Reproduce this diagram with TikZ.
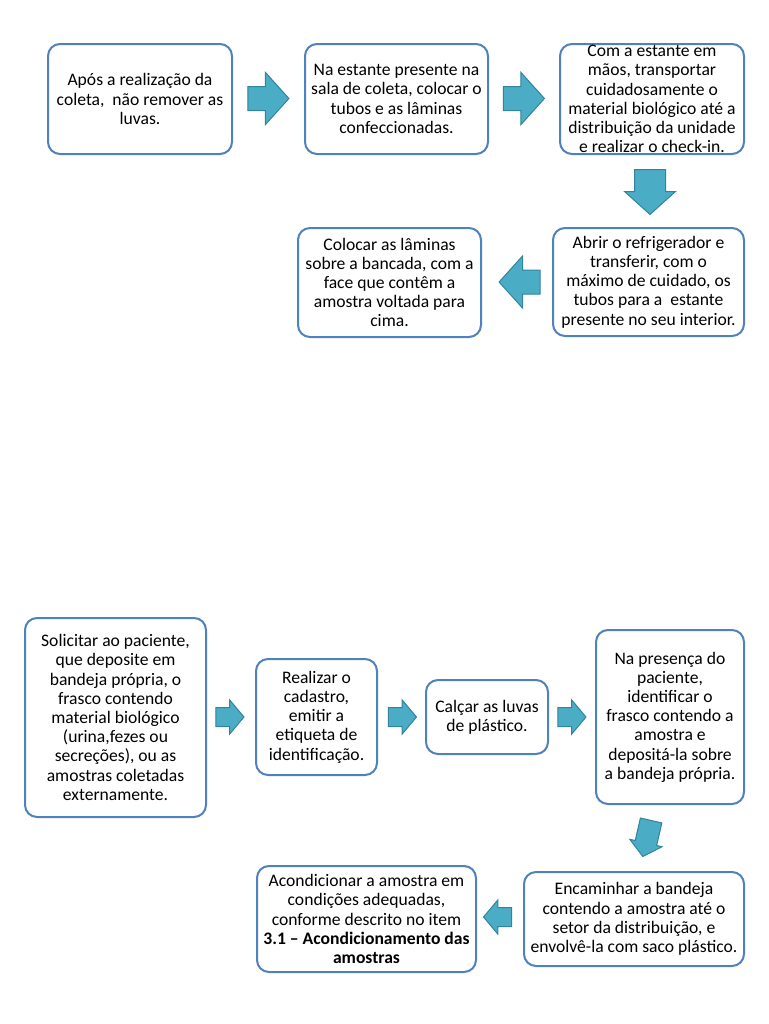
\documentclass[tikz,border=0pt]{standalone}
\usepackage{fontspec}
\setmainfont{Carlito}
\usetikzlibrary{shapes.arrows}
\definecolor{boxedge}{HTML}{4F81BD}
\definecolor{arrowfill}{HTML}{4BACC6}
\definecolor{arrowedge}{HTML}{31849B}
\tikzset{
  box/.style={draw=boxedge, line width=1pt, rounded corners=6pt, fill=white,
    align=center, inner sep=0pt, font=\fontsize{8.8}{9.6}\selectfont},
  bigarrow/.style={single arrow, draw=arrowedge, fill=arrowfill, line width=0.5pt,
    inner xsep=0pt, inner ysep=5.75pt, single arrow head extend=7pt,
    single arrow tip angle=96, minimum height=20.5pt},
  smallarrow/.style={single arrow, draw=arrowedge, fill=arrowfill, line width=0.5pt,
    inner xsep=0pt, inner ysep=4.5pt, single arrow head extend=3.75pt,
    single arrow tip angle=100, minimum height=14pt}
}
\begin{document}
\begin{tikzpicture}[x=0.5pt,y=-0.5pt]
\useasboundingbox (0,0) rectangle (768,1024);
% top flow
\node[box, minimum width=92pt, minimum height=55pt] (p1) at (140,99)
  {Após a realização da\\coleta,\ \ não remover as\\luvas.};
\node[box, minimum width=91.5pt, minimum height=55pt] (p2) at (396.5,99)
  {Na estante presente na\\sala de coleta, colocar o\\tubos e as lâminas\\confeccionadas.};
\node[box, minimum width=92pt, minimum height=55pt] (p3) at (652,99)
  {Com a estante em\\mãos, transportar\\cuidadosamente o\\material biológico até a\\distribuição da unidade\\e realizar o check-in.};
\node[box, minimum width=95.5pt, minimum height=54pt] (p4) at (648.5,282)
  {Abrir o refrigerador e\\transferir, com o\\máximo de cuidado, os\\tubos para a\ \ estante\\presente no seu interior.};
\node[box, minimum width=91.5pt, minimum height=54.5pt] (p5) at (389.5,282.5)
  {Colocar as lâminas\\sobre a bancada, com a\\face que contêm a\\amostra voltada para\\cima.};
\node[bigarrow] (ap1) at (263,98.5) {};
\node[bigarrow] (ap2) at (518.5,98.5) {};
\node[bigarrow, shape border rotate=270, inner sep=7.5pt, single arrow head extend=5pt,
  minimum height=21.5pt] (ap3) at (650,185) {};
\node[bigarrow, shape border rotate=180] (ap4) at (525,282) {};
% bottom flow
\node[box, minimum width=90.5pt, minimum height=99.5pt] (q1) at (115.5,717.5)
  {Solicitar ao paciente,\\que deposite em\\bandeja própria, o\\frasco contendo\\material biológico\\(urina,fezes ou\\secreções), ou as\\amostras coletadas\\externamente.};
\node[box, minimum width=60.5pt, minimum height=58pt] (q2) at (316.5,717)
  {Realizar o\\cadastro,\\emitir a\\etiqueta de\\identificação.};
\node[box, minimum width=61pt, minimum height=37pt] (q3) at (487,717)
  {Calçar as luvas\\de plástico.};
\node[box, minimum width=74pt, minimum height=87pt] (q4) at (670,717)
  {Na presença do\\paciente,\\identificar o\\frasco contendo a\\amostra e\\depositá-la sobre\\a bandeja própria.};
\node[box, minimum width=110pt, minimum height=47pt] (q5) at (634,919)
  {Encaminhar a bandeja\\contendo a amostra até o\\setor da distribuição, e\\envolvê-la com saco plástico.};
\node[box, minimum width=109.5pt, minimum height=53pt] (q6) at (366.5,919)
  {Acondicionar a amostra em\\condições adequadas,\\conforme descrito no item\\\textbf{3.1 – Acondicionamento das}\\\textbf{amostras}};
\node[smallarrow] (aq1) at (226,717) {};
\node[smallarrow] (aq2) at (398.5,717) {};
\node[smallarrow] (aq3) at (568,717) {};
\node[smallarrow, shape border rotate=270, rotate=-13, inner sep=5.25pt, single arrow head extend=2.75pt,
  minimum height=18.5pt] (aq4) at (648,834) {};
\node[smallarrow, shape border rotate=180] (aq5) at (501.5,917) {};
\end{tikzpicture}
\end{document}
